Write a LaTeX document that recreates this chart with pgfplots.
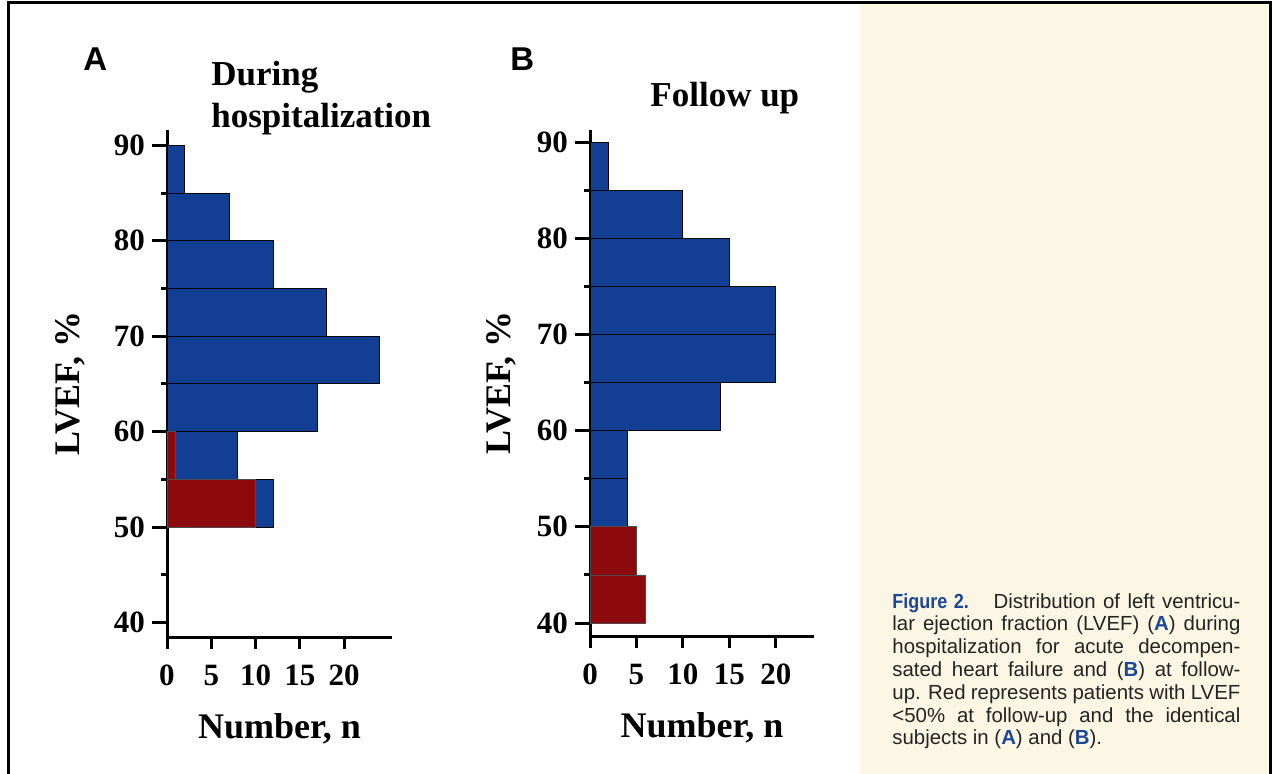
\documentclass[border=0pt]{standalone}
\usepackage{pgfplots}
\pgfplotsset{compat=1.18}
\usepackage{pgfplotstable}
\usepackage{fontspec}
\setmainfont{Liberation Serif}
\newfontfamily\helv{Liberation Sans}
\newfontfamily\helvcond[FakeStretch=0.88]{Liberation Sans}
\definecolor{barblue}{RGB}{18,62,148}
\definecolor{barred}{RGB}{140,10,14}
\definecolor{cream}{RGB}{252,247,228}
\definecolor{capblue}{RGB}{28,70,150}
\definecolor{captext}{RGB}{35,35,35}

\pgfplotstableread{
y n
52.5 12
57.5 8
62.5 17
67.5 24
72.5 18
77.5 12
82.5 7
87.5 2
}\blueA
\pgfplotstableread{
y n
52.5 10
57.5 1
}\redA
\pgfplotstableread{
y n
52.5 4
57.5 4
62.5 14
67.5 20
72.5 20
77.5 15
82.5 10
87.5 2
}\blueB
\pgfplotstableread{
y n
42.5 6
47.5 5
}\redB

\pgfplotsset{panel/.style={
  scale only axis,
  axis lines=left,
  axis line style={line width=1.5pt,-},
  xmin=0,
  xtick={0,5,...,20},
  ytick={40,50,...,90},
  minor ytick={45,55,...,85},
  tick align=outside,
  major tick length=7.5pt,
  minor tick length=3pt,
  xtick style={/pgfplots/major tick length=6pt},
  every tick/.style={line width=1.5pt,black},
  every minor tick/.style={line width=1.5pt,black},
  tick label style={font=\bfseries\fontsize{15.5}{15.5}\selectfont},
  xticklabel style={yshift=-3pt},
  /pgf/number format/assume math mode=true,
  xlabel={Number, n},
  ylabel={LVEF, \%},
  clip=false,
}}
\pgfplotsset{bluebar/.style={xbar,bar width=5,bar shift=0pt,fill=barblue,draw=black,line width=0.5pt},
             redbar/.style={xbar,bar width=5,bar shift=0pt,fill=barred,draw=black!70,line width=0.4pt}}

\begin{document}
\begin{tikzpicture}
\begin{scope}[x=0.5pt,y=-0.5pt]
  \useasboundingbox (0,0) rectangle (1273,774);
  \fill[cream] (860,4) rectangle (1268,774);
  \draw[line width=1.5pt] (8,774) -- (8,3) -- (1270,3) -- (1270,774);
  \node[anchor=base west,inner sep=0pt,font=\helv\bfseries\fontsize{16.5}{16.5}\selectfont] at (83,71) {A};
  \node[anchor=base west,inner sep=0pt,font=\helv\bfseries\fontsize{16.5}{16.5}\selectfont] at (510,71) {B};
  \node[anchor=base west,inner sep=0pt,font=\bfseries\fontsize{17.5}{17.5}\selectfont] at (211,86) {During};
  \node[anchor=base west,inner sep=0pt,font=\bfseries\fontsize{17.5}{17.5}\selectfont] at (211,128) {hospitalization};
  \node[anchor=base west,inner sep=0pt,font=\bfseries\fontsize{17.5}{17.5}\selectfont] at (650,107) {Follow up};
  \node[anchor=north west,inner sep=0pt,text width=174pt,align=justify,text=captext,
        font=\helv\fontsize{10.2}{11.4}\selectfont] at (892,593)
  {{\helvcond\bfseries\color{capblue}Figure 2.}\hspace{6pt} Distribution of left ventricu-\linebreak
   lar ejection fraction (LVEF) ({\bfseries\color{capblue}A}) during\linebreak
   hospitalization for acute decompen-\linebreak
   sated heart failure and ({\bfseries\color{capblue}B}) at follow-\linebreak
   up. Red represents patients with LVEF\linebreak
   {<}50\% at follow-up and the identical\linebreak
   subjects in ({\bfseries\color{capblue}A}) and ({\bfseries\color{capblue}B}).};
\end{scope}

\begin{axis}[panel,
  at={(83.5pt,-318.5pt)}, anchor=south west,
  width=112.5pt, height=253.5pt,
  xmax=25.4, ymin=38.5, ymax=91.6,
  xlabel style={at={(axis description cs:0.5,-0.1992)},anchor=base,font=\bfseries\fontsize{18}{18}\selectfont},
  ylabel style={at={(axis description cs:-0.3867,0.5)},rotate=0,anchor=base,font=\bfseries\fontsize{18}{18}\selectfont},
]
  \addplot[bluebar] table[x=n,y=y]{\blueA};
  \addplot[redbar] table[x=n,y=y]{\redA};
\end{axis}

\begin{axis}[panel,
  at={(295pt,-318pt)}, anchor=south west,
  width=112pt, height=253pt,
  xmax=24.1, ymin=38.65, ymax=91.25,
  xlabel style={at={(axis description cs:0.5,-0.1996)},anchor=base,font=\bfseries\fontsize{18}{18}\selectfont},
  ylabel style={at={(axis description cs:-0.357,0.5)},rotate=0,anchor=base,font=\bfseries\fontsize{18}{18}\selectfont},
]
  \addplot[bluebar] table[x=n,y=y]{\blueB};
  \addplot[redbar] table[x=n,y=y]{\redB};
\end{axis}
\end{tikzpicture}
\end{document}
